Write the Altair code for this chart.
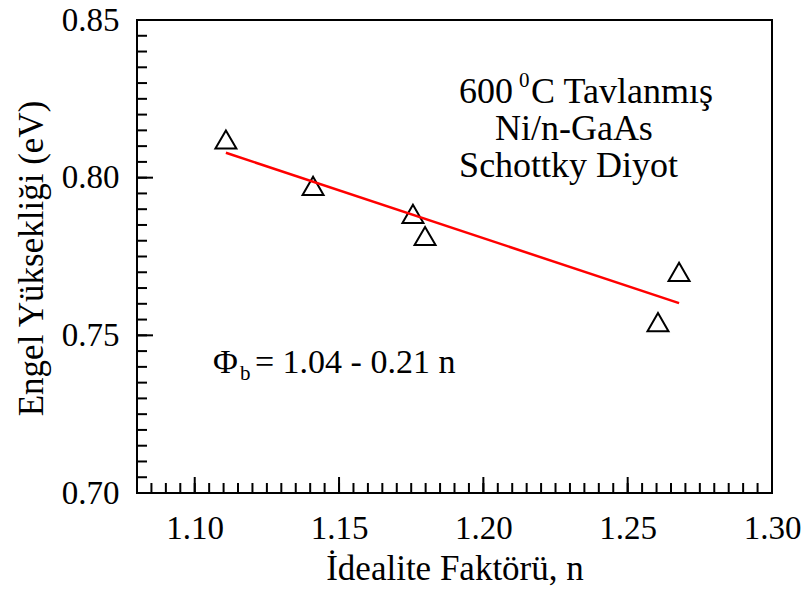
import altair as alt
import pandas as pd

# ---- data ----
ideality_n = [1.1108, 1.1410, 1.1756, 1.1798, 1.2605, 1.2678]
barrier_eV = [0.8121, 0.7974, 0.7885, 0.7815, 0.7542, 0.7701]

fit_n = [1.1108, 1.2678]
fit_eV = [0.8079, 0.7602]

x_major = [1.10, 1.15, 1.20, 1.25, 1.30]
y_major = [0.70, 0.75, 0.80, 0.85]
x_minor = [round(1.08 + 0.005 * i, 3) for i in range(1, 44)]
y_minor = [round(0.70 + 0.005 * i, 3) for i in range(1, 30)]

# annotation anchors (data coordinates)
ann_x = [1.1916, 1.2040, 1.1916]
ann_y = [0.8237, 0.8119, 0.8002]
ann_text = ["600", "Ni/n-GaAs", "Schottky Diyot"]
eq_x, eq_y = 1.1063, 0.7380

x_title = "İdealite Faktörü, n"
y_title = "Engel Yüksekliği (eV)"

W, H = 635, 473
FONT = "Liberation Serif"

xs = alt.Scale(domain=[1.08, 1.30], nice=False, zero=False)
ys = alt.Scale(domain=[0.70, 0.85], nice=False, zero=False)

AX = alt.Axis(
    values=x_major, format=".2f", ticks=False, domain=False, grid=False,
    labelFont=FONT, labelFontSize=33, labelColor="black", labelPadding=19,
    labelFlush=False, labelOverlap=False,
    title=x_title, titleFont=FONT, titleFontSize=35, titleFontWeight="normal",
    titleColor="black", titleX=W / 2, titleY=75, titleBaseline="middle", titleAlign="center")
AY = alt.Axis(
    values=y_major, format=".2f", ticks=False, domain=False, grid=False,
    labelFont=FONT, labelFontSize=33, labelColor="black", labelPadding=18,
    labelFlush=False, labelOverlap=False,
    title=y_title, titleFont=FONT, titleFontSize=35, titleFontWeight="normal",
    titleColor="black", titleX=-106, titleY=238, titleBaseline="middle", titleAngle=-90, titleAlign="center")


def X(field):
    return alt.X(field, type="quantitative", scale=xs, axis=AX)


def Y(field):
    return alt.Y(field, type="quantitative", scale=ys, axis=AY)


pts = pd.DataFrame({"n": ideality_n, "phi": barrier_eV})
fit = pd.DataFrame({"n": fit_n, "phi": fit_eV})

points = alt.Chart(pts).mark_point(
    shape="triangle-up", size=440, filled=False, color="black", strokeWidth=2, opacity=1
).encode(x=X("n"), y=Y("phi"))

line = alt.Chart(fit).mark_line(color="red", strokeWidth=2.5).encode(x=X("n"), y=Y("phi"))


def xticks(vals, length):
    return alt.Chart(pd.DataFrame({"n": vals})).mark_rule(color="black", strokeWidth=2).encode(
        x=X("n"), y=alt.value(H), y2=alt.value(H - length)
    )


def yticks(vals, length):
    return alt.Chart(pd.DataFrame({"phi": vals})).mark_rule(color="black", strokeWidth=2).encode(
        y=Y("phi"), x=alt.value(0), x2=alt.value(length)
    )


def label(x, y, t, size, dx=0):
    return alt.Chart(pd.DataFrame({"n": [x], "phi": [y], "t": [t]})).mark_text(
        font=FONT, fontSize=size, align="left", baseline="alphabetic", color="black", dx=dx
    ).encode(x=X("n"), y=Y("phi"), text="t:N")


ann = pd.DataFrame({"n": ann_x, "phi": ann_y, "t": ann_text})
ann_layer = alt.Chart(ann).mark_text(
    font=FONT, fontSize=36, align="left", baseline="alphabetic", color="black"
).encode(x=X("n"), y=Y("phi"), text="t:N")

sup = label(ann_x[0], 0.8288, "0", 21, dx=60)
rest1 = label(ann_x[0], ann_y[0], "C Tavlanmış", 36, dx=72)

phi = label(eq_x, eq_y, "Φ", 34)
sub = label(eq_x, eq_y - 0.0022, "b", 21, dx=27)
eq = label(eq_x, eq_y, "= 1.04 - 0.21 n", 34, dx=42)

chart = alt.layer(
    points, line,
    xticks(x_minor, 10), xticks(x_major, 16), yticks(y_minor, 10), yticks(y_major, 16),
    ann_layer, sup, rest1, phi, sub, eq
).properties(
    width=W, height=H,
    autosize=alt.AutoSizeParams(type="none"),
    padding={"left": 137, "top": 20, "right": 35, "bottom": 97},
    background="white",
).configure_view(stroke="black", strokeWidth=2)

chart.save("out.html", embed_options={"renderer": "svg", "actions": False})
